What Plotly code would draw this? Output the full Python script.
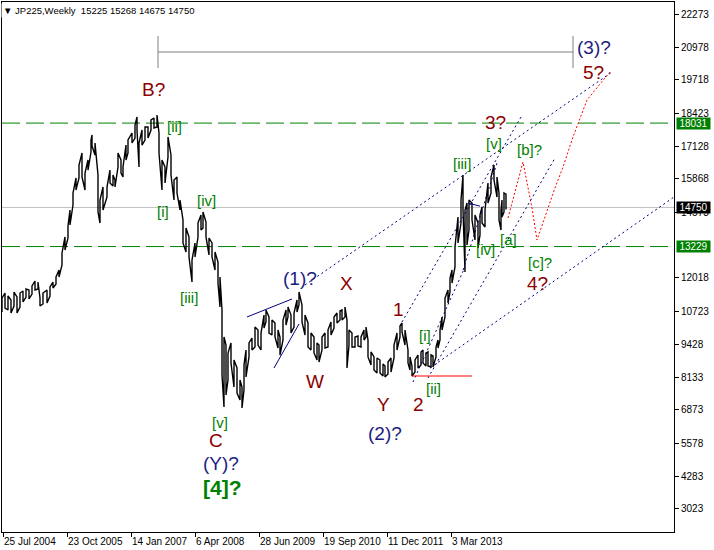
import plotly.graph_objects as go

# ---------------- data (bar index: 0 = week of 25 Jul 2004) ----------------
bar = [-1, 2, 5, 8, 11, 14, 17, 20, 23, 26, 29, 32, 35, 37, 40, 44, 47, 50, 53, 56,
       59, 62, 65, 67, 70, 73, 76, 79, 82, 85, 88, 89, 92, 95, 97, 100, 104, 107, 110, 112,
       115, 118, 120, 123, 125, 129, 132, 134, 136, 139, 142, 145, 148, 151, 154, 156, 159, 162, 165, 168,
       171, 174, 177, 180, 183, 186, 189, 192, 195, 198, 200, 203, 206, 209, 212, 215, 217, 219, 221, 223,
       225, 228, 231, 234, 237, 239, 241, 243, 246, 249, 252, 255, 258, 261, 263, 266, 269, 272, 275, 277,
       280, 283, 285, 288, 291, 294, 296, 299, 302, 305, 308, 311, 314, 316, 319, 322, 325, 328, 331, 334,
       337, 339, 342, 344, 346, 349, 352, 355, 358, 361, 363, 365, 368, 371, 374, 377, 380, 382, 385, 388,
       391, 394, 397, 399, 402, 405, 407, 409, 412, 415, 418, 420, 423, 425, 428, 430, 433, 435, 437, 439,
       442, 445, 447, 449, 452, 455, 458, 460, 462, 464, 466, 469, 472, 475, 477, 479, 482, 485, 488, 491,
       494, 496, 498, 499, 501, 503]
high = [11228, 11422, 11306, 11150, 11461, 11267, 11422, 11500, 11578, 11539, 11695, 11889, 11850, 11228, 11422, 11539, 11656, 11850, 12045, 12317,
        12978, 13601, 14028, 14651, 15312, 15895, 16401, 16867, 16089, 16595, 17373, 17567, 17256, 16012, 15040, 15545, 15545, 16206, 16012, 15817,
        16867, 16595, 16323, 17178, 17373, 17645, 17956, 18267, 17256, 17762, 17878, 17878, 18151, 18228, 18345, 17645, 16595, 16323, 17490, 16790,
        15817, 15934, 15040, 14262, 13951, 13601, 12706, 13367, 14145, 14456, 14573, 14184, 13562, 13367, 13017, 12628, 12045, 10762, 9712, 9401,
        9090, 9478, 8817, 8506, 8039, 7767, 8623, 9206, 9478, 9673, 10101, 9984, 9867, 10567, 10762, 10489, 10373, 10256, 9984, 9712,
        10373, 10762, 10878, 10567, 10645, 11150, 11461, 10956, 10567, 10256, 9867, 9712, 9478, 9401, 9712, 9867, 9984, 10295, 10489, 10645,
        10723, 10762, 10878, 10373, 9984, 9867, 9712, 9750, 9712, 9984, 10101, 9595, 9129, 8935, 8896, 8817, 8662, 8584, 8740, 8896,
        9401, 9867, 10139, 10256, 9984, 9206, 8935, 8584, 8817, 9012, 9129, 9206, 9090, 9129, 9012, 8973, 9323, 9595, 9984, 10489,
        11228, 11539, 12006, 12317, 13212, 14378, 15040, 16012, 14651, 14923, 15040, 14923, 14456, 14145, 14456, 14767, 14651, 15701, 15934, 16401,
        15934, 15312, 14651, 15040, 15312, 15268]
low = [10684, 10839, 10762, 10645, 10917, 10645, 10878, 11073, 11267, 11189, 11384, 11539, 11578, 10917, 10995, 11034, 11306, 11617, 11773, 12045,
       12512, 13095, 13562, 14067, 14845, 15428, 15895, 15934, 15428, 16206, 16906, 17140, 16790, 14573, 14145, 14651, 15156, 15701, 15584, 15545,
       16323, 16089, 15934, 16595, 16867, 17256, 17451, 17762, 16323, 17178, 17373, 17451, 17762, 17840, 17878, 16867, 15428, 15701, 16712, 16012,
       15040, 15312, 14651, 13367, 13017, 12823, 11850, 12823, 13601, 13873, 13951, 13601, 12901, 12823, 12317, 11811, 10878, 8234, 6989, 7456,
       8039, 8701, 7767, 7534, 7262, 6950, 7650, 8156, 8935, 9206, 9323, 9401, 9206, 10062, 10295, 9867, 9789, 9712, 9284, 9012,
       9595, 10178, 10489, 9867, 10101, 10684, 10956, 10295, 9789, 9323, 9206, 9090, 8817, 8740, 9206, 9284, 9323, 9789, 10062, 10256,
       10373, 10373, 10489, 8506, 9401, 9323, 9323, 9362, 9323, 9595, 9712, 8935, 8623, 8428, 8312, 8312, 8195, 8156, 8273, 8351,
       8896, 9206, 9712, 9906, 9401, 8701, 8428, 8195, 8351, 8506, 8623, 8701, 8584, 8584, 8545, 8545, 8935, 9284, 9595, 9984,
       10489, 11034, 11461, 11811, 12434, 13367, 14145, 14651, 12239, 13289, 13873, 14262, 13484, 13173, 13678, 14145, 13990, 14923, 15312, 15817,
       15156, 14262, 13873, 14378, 14573, 14675]

last_close = 14750
title_text = "JP225,Weekly  15225 15268 14675 14750"

xtick_bars = [0, 64, 128, 192, 256, 320, 384, 448]
xtick_text = ["25 Jul 2004", "23 Oct 2005", "14 Jan 2007", "6 Apr 2008",
              "28 Jun 2009", "19 Sep 2010", "11 Dec 2011", "3 Mar 2013"]
ytick_vals = [22273, 20978, 19718, 18423, 17128, 15868, 14573,
              12018, 10723, 9428, 8133, 6873, 5578, 4283, 3023]

level_hi = 18031
level_lo = 13229

lbl_text = ["(3)?", "5?", "B?", "[ii]", "[i]", "[iv]", "[iii]", "[v]", "C", "(Y)?", "[4]?",
            "(1)?", "X", "W", "1", "[i]", "[ii]", "Y", "2", "(2)?",
            "3?", "[iii]", "[v]", "[b]?", "[iv]", "[a]", "[c]?", "4?"]
lbl_bar = [591, 590, 150, 171, 160, 203, 186, 217, 213, 218, 219,
           297, 343, 312, 395, 422, 430, 380, 415, 382,
           492, 459, 491, 526, 482, 505, 537, 534]
lbl_price = [20990, 20017, 19356, 17917, 14612, 15001, 11267, 6406, 5706, 4773, 3878,
             12006, 11811, 7999, 10762, 9789, 7728, 7106, 7106, 5978,
             18073, 16478, 17218, 17023, 13134, 13523, 12628, 11811]
lbl_kind = ["navy", "red", "red", "green", "green", "green", "green", "green", "red", "navy", "big",
            "navy", "red", "red", "red", "green", "green", "red", "red", "navy",
            "red", "green", "green", "green", "green", "green", "green", "red"]

# channel / trend lines: (bar0, price0, bar1, price1)
dotted_lines = [
    (302, 11734, 609, 20017),
    (399, 10295, 518, 18267),
    (425, 8117, 552, 16673),
    (427, 8506, 671, 15156),
    (410, 7961, 462, 12434),
    (460, 12317, 494, 16478),
]
solid_lines = [
    (244, 10490, 289, 11190),
    (271, 8506, 296, 10217),
    (465, 14923, 477, 14800),
]
proj_bar = [505, 520, 529, 534, 552, 560, 570, 579, 584, 597, 607]
proj_price = [14340, 16517, 14728, 13484, 15506, 16323, 17490, 18423, 18929, 19551, 20017]
red_seg = (409, 8195, 469, 8195)
range_bar = (155, 570)
range_price = (20795, 21417, 20173)

# ---------------- figure ----------------
FONT = "Liberation Sans, Arial, sans-serif"
styles = {"red": ("#8B0000", 19, False), "navy": ("#1c1c80", 19, False),
          "green": ("#008000", 15, False), "big": ("#008000", 21, True)}

xs, ys = [], []
for i, (b, h, l) in enumerate(zip(bar, high, low)):
    xs += [b, b]
    ys += [l, h] if i % 2 == 0 else [h, l]

fig = go.Figure()
fig.add_trace(go.Scatter(x=xs, y=ys, mode="lines", line=dict(color="black", width=1.4),
                         hoverinfo="skip", showlegend=False))
fig.add_trace(go.Scatter(x=proj_bar, y=proj_price, mode="lines",
                         line=dict(color="#ff0000", width=1, dash="2px,2px"),
                         hoverinfo="skip", showlegend=False))

shapes = []
shapes.append(dict(type="line", xref="paper", x0=0, x1=1, yref="y", y0=last_close, y1=last_close,
                   line=dict(color="#c0c0c0", width=1), layer="below"))
for lv in (level_hi, level_lo):
    shapes.append(dict(type="line", xref="paper", x0=0, x1=1, yref="y", y0=lv, y1=lv,
                       line=dict(color="#008000", width=1, dash="18px,6px"), layer="below"))
for (b0, p0, b1, p1) in dotted_lines:
    shapes.append(dict(type="line", xref="x", yref="y", x0=b0, y0=p0, x1=b1, y1=p1,
                       line=dict(color="#000080", width=1, dash="2px,3px")))
for (b0, p0, b1, p1) in solid_lines:
    shapes.append(dict(type="line", xref="x", yref="y", x0=b0, y0=p0, x1=b1, y1=p1,
                       line=dict(color="#000080", width=1)))
shapes.append(dict(type="line", xref="x", yref="y", x0=red_seg[0], y0=red_seg[1],
                   x1=red_seg[2], y1=red_seg[3], line=dict(color="#ff0000", width=1)))
shapes.append(dict(type="line", xref="x", yref="y", x0=range_bar[0], x1=range_bar[1],
                   y0=range_price[0], y1=range_price[0], line=dict(color="#808080", width=1)))
for rb in range_bar:
    shapes.append(dict(type="line", xref="x", yref="y", x0=rb, x1=rb,
                       y0=range_price[2], y1=range_price[1], line=dict(color="#808080", width=1)))

annotations = []
for t, b, p, k in zip(lbl_text, lbl_bar, lbl_price, lbl_kind):
    col, sz, bold = styles[k]
    annotations.append(dict(x=b, y=p, xref="x", yref="y", text=f"<b>{t}</b>" if bold else t,
                            showarrow=False, font=dict(family=FONT, size=sz, color=col)))
for val, bg in ((level_hi, "#008000"), (last_close, "#000000"), (level_lo, "#008000")):
    annotations.append(dict(x=1, xref="paper", y=val, yref="y", text=str(val), showarrow=False,
                            xanchor="left", xshift=2, bgcolor=bg, width=33, height=11, borderpad=0,
                            font=dict(family=FONT, size=10, color="white")))
annotations.append(dict(x=0, xref="paper", y=1, yref="paper", xanchor="left", yanchor="top",
                        xshift=-1, yshift=-1, showarrow=False, bgcolor="white",
                        text="\u25BC " + title_text,
                        font=dict(family=FONT, size=9.5, color="black")))

fig.update_layout(
    width=714, height=550,
    margin=dict(l=2, r=40, t=2, b=18, autoexpand=False),
    paper_bgcolor="white", plot_bgcolor="white",
    showlegend=False,
    shapes=shapes, annotations=annotations,
    font=dict(family=FONT, size=10, color="black"),
    xaxis=dict(range=[-1, 671], tickmode="array", tickvals=xtick_bars, ticktext=xtick_text,
               ticks="outside", ticklen=4, tickcolor="black", ticklabelposition="outside right",
               tickangle=0, automargin=False,
               showline=True, linecolor="black", linewidth=1, mirror=True,
               showgrid=False, zeroline=False, fixedrange=True,
               tickfont=dict(family=FONT, size=10, color="black")),
    yaxis=dict(range=[2128, 22740], side="right", tickmode="array", tickvals=ytick_vals,
               ticktext=[str(v) for v in ytick_vals], automargin=False,
               ticks="outside", ticklen=4, tickcolor="black",
               showline=True, linecolor="black", linewidth=1, mirror=True,
               showgrid=False, zeroline=False, fixedrange=True,
               tickfont=dict(family=FONT, size=10, color="black")),
)

fig.write_html("out.html", config={"displayModeBar": False},
               post_script="document.body.style.margin='0';document.body.style.overflow='hidden';")
